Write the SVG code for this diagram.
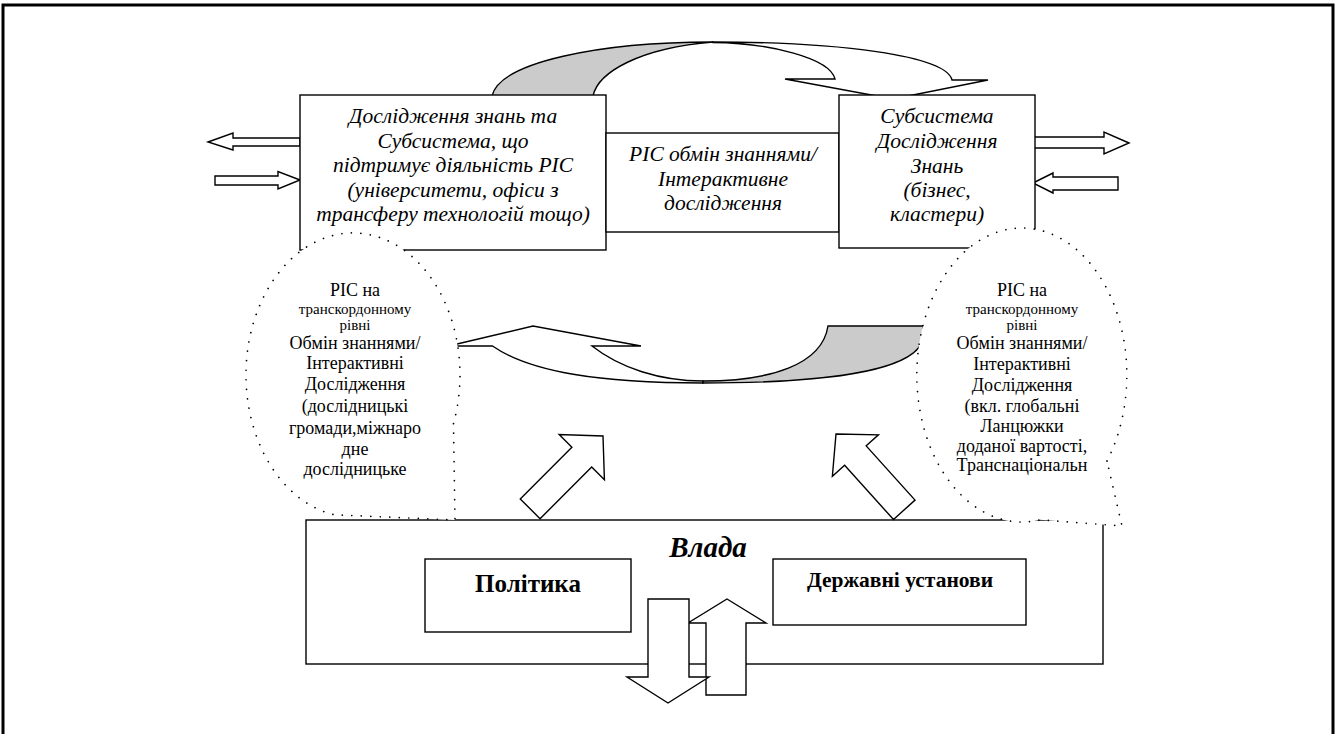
<svg xmlns="http://www.w3.org/2000/svg" width="1336" height="734" viewBox="0 0 1336 734">
<style>
.ln{fill:#fff;stroke:#000;stroke-width:1.4;stroke-linejoin:miter}
.gr{fill:#cbcbcb;stroke:#000;stroke-width:1.4}
.dot{fill:#fff;stroke:#000;stroke-width:1.7;stroke-dasharray:0.01 9.5;stroke-linecap:round}
.it{font-family:"Liberation Serif",serif;font-style:italic;font-size:21.5px;text-anchor:middle;fill:#000}
.rg{font-family:"Liberation Serif",serif;font-size:18px;text-anchor:middle;fill:#000}
.sm{font-size:15px}
.bd{font-family:"Liberation Serif",serif;font-weight:bold;text-anchor:middle;fill:#000}
</style>
<rect x="0" y="0" width="1336" height="734" fill="#fff"/>
<rect x="3" y="5" width="1330" height="780" fill="none" stroke="#000" stroke-width="3"/>

<g id="vlada">
<rect class="ln" x="306" y="520" width="797" height="144"/>
<text class="bd" x="708" y="557" font-size="29" font-style="italic">Влада</text>
</g>
<g id="polityka">
<rect class="ln" x="425" y="559" width="206" height="73"/>
<text class="bd" x="528" y="592" font-size="25">Політика</text>
</g>
<g id="derzhavni">
<rect class="ln" x="773" y="559" width="253" height="66"/>
<text class="bd" x="900" y="587" font-size="21.5">Державні установи</text>
</g>

<g id="connectors">
<path class="gr" d="M492,96 C500,62 600,42 713,42 C640,48 598,72 593,96 Z"/>
<path class="ln" d="M713,42.5 C770,43 830,58 835,79 L785,79 L893,99 L988,80 L952,80 C946,55 836,42 713,42 Z"/>
<path class="ln" d="M457,344 L533,326 L641,346 L592,346 C620,368 660,381 703,381 L703,383 C600,383 530,372 492.5,346 L457,346 Z"/>
<path class="gr" d="M703,381 C770,381 822,365 828,326 L923,326 L922,342 C910,372 820,383 703,383 Z"/>
<path class="ln" d="M208,142 L233,133 L233,138 L300,138 L300,146 L233,146 L233,150 Z"/>
<path class="ln" d="M300,180 L278,171.5 L278,176 L215,176 L215,185 L278,185 L278,189 Z"/>
<path class="ln" d="M1129,143 L1104,132 L1104,137 L1034,137 L1034,148 L1104,148 L1104,154 Z"/>
<path class="ln" d="M1033,183 L1053,173 L1053,177 L1118,177 L1118,190 L1053,190 L1053,193 Z"/>
<path class="ln" transform="translate(603,436) rotate(45)" d="M0,0 L32,30 L14,30 L14,103 L-14,103 L-14,30 L-32,30 Z"/>
<path class="ln" transform="translate(836,434) rotate(-42)" d="M0,0 L31,29 L14.5,29 L14.5,102 L-14.5,102 L-14.5,29 L-31,29 Z"/>
<path class="ln" d="M727,599 L766,623 L746,623 L746,695 L706,695 L706,623 L688,623 Z"/>
<path class="ln" d="M648,599 L689,599 L689,677 L709,677 L668,703 L627,677 L648,677 Z"/>
</g>

<g id="left-box">
<rect class="ln" x="300" y="95" width="306" height="155"/>
<text class="it" x="453" y="123">Дослідження знань та</text>
<text class="it" x="453" y="148">Субсистема, що</text>
<text class="it" x="453" y="172">підтримує діяльність РІС</text>
<text class="it" x="453" y="197">(університети, офіси з</text>
<text class="it" x="453" y="221">трансферу технологій тощо)</text>
</g>
<g id="middle-box">
<rect class="ln" x="606" y="133" width="233" height="99"/>
<text class="it" x="723" y="161">РІС обмін знаннями/</text>
<text class="it" x="723" y="185.5">Інтерактивне</text>
<text class="it" x="723" y="210">дослідження</text>
</g>
<g id="right-box">
<rect class="ln" x="839" y="95" width="196" height="153"/>
<text class="it" x="937" y="123">Субсистема</text>
<text class="it" x="937" y="148">Дослідження</text>
<text class="it" x="937" y="173">Знань</text>
<text class="it" x="937" y="197">(бізнес,</text>
<text class="it" x="937" y="221">кластери)</text>
</g>

<g id="left-callout">
<path class="dot" d="M453.5,423.6 A107 142 0 1 0 334.4,514.8 L455,520 Z"/>
<text class="rg" x="355" y="296">РІС на</text>
<text class="rg sm" x="355" y="314">транскордонному</text>
<text class="rg sm" x="355" y="330">рівні</text>
<text class="rg" x="355" y="349">Обмін знаннями/</text>
<text class="rg" x="355" y="369">Інтерактивні</text>
<text class="rg" x="355" y="390">Дослідження</text>
<text class="rg" x="355" y="412">(дослідницькі</text>
<text class="rg" x="355" y="434">громади,міжнаро</text>
<text class="rg" x="355" y="455">дне</text>
<text class="rg" x="355" y="475">дослідницьке</text>
</g>
<g id="right-callout">
<path class="dot" d="M1107,461 A105 147 0 1 0 1040,519.8 L1122,526 Z"/>
<text class="rg" x="1022" y="296">РІС на</text>
<text class="rg sm" x="1022" y="314">транскордонному</text>
<text class="rg sm" x="1022" y="330">рівні</text>
<text class="rg" x="1022" y="349">Обмін знаннями/</text>
<text class="rg" x="1022" y="370">Інтерактивні</text>
<text class="rg" x="1022" y="391">Дослідження</text>
<text class="rg" x="1022" y="412">(вкл. глобальні</text>
<text class="rg" x="1022" y="432">Ланцюжки</text>
<text class="rg" x="1022" y="452">доданої вартості,</text>
<text class="rg" x="1022" y="471">Транснаціональн</text>
</g>
</svg>
